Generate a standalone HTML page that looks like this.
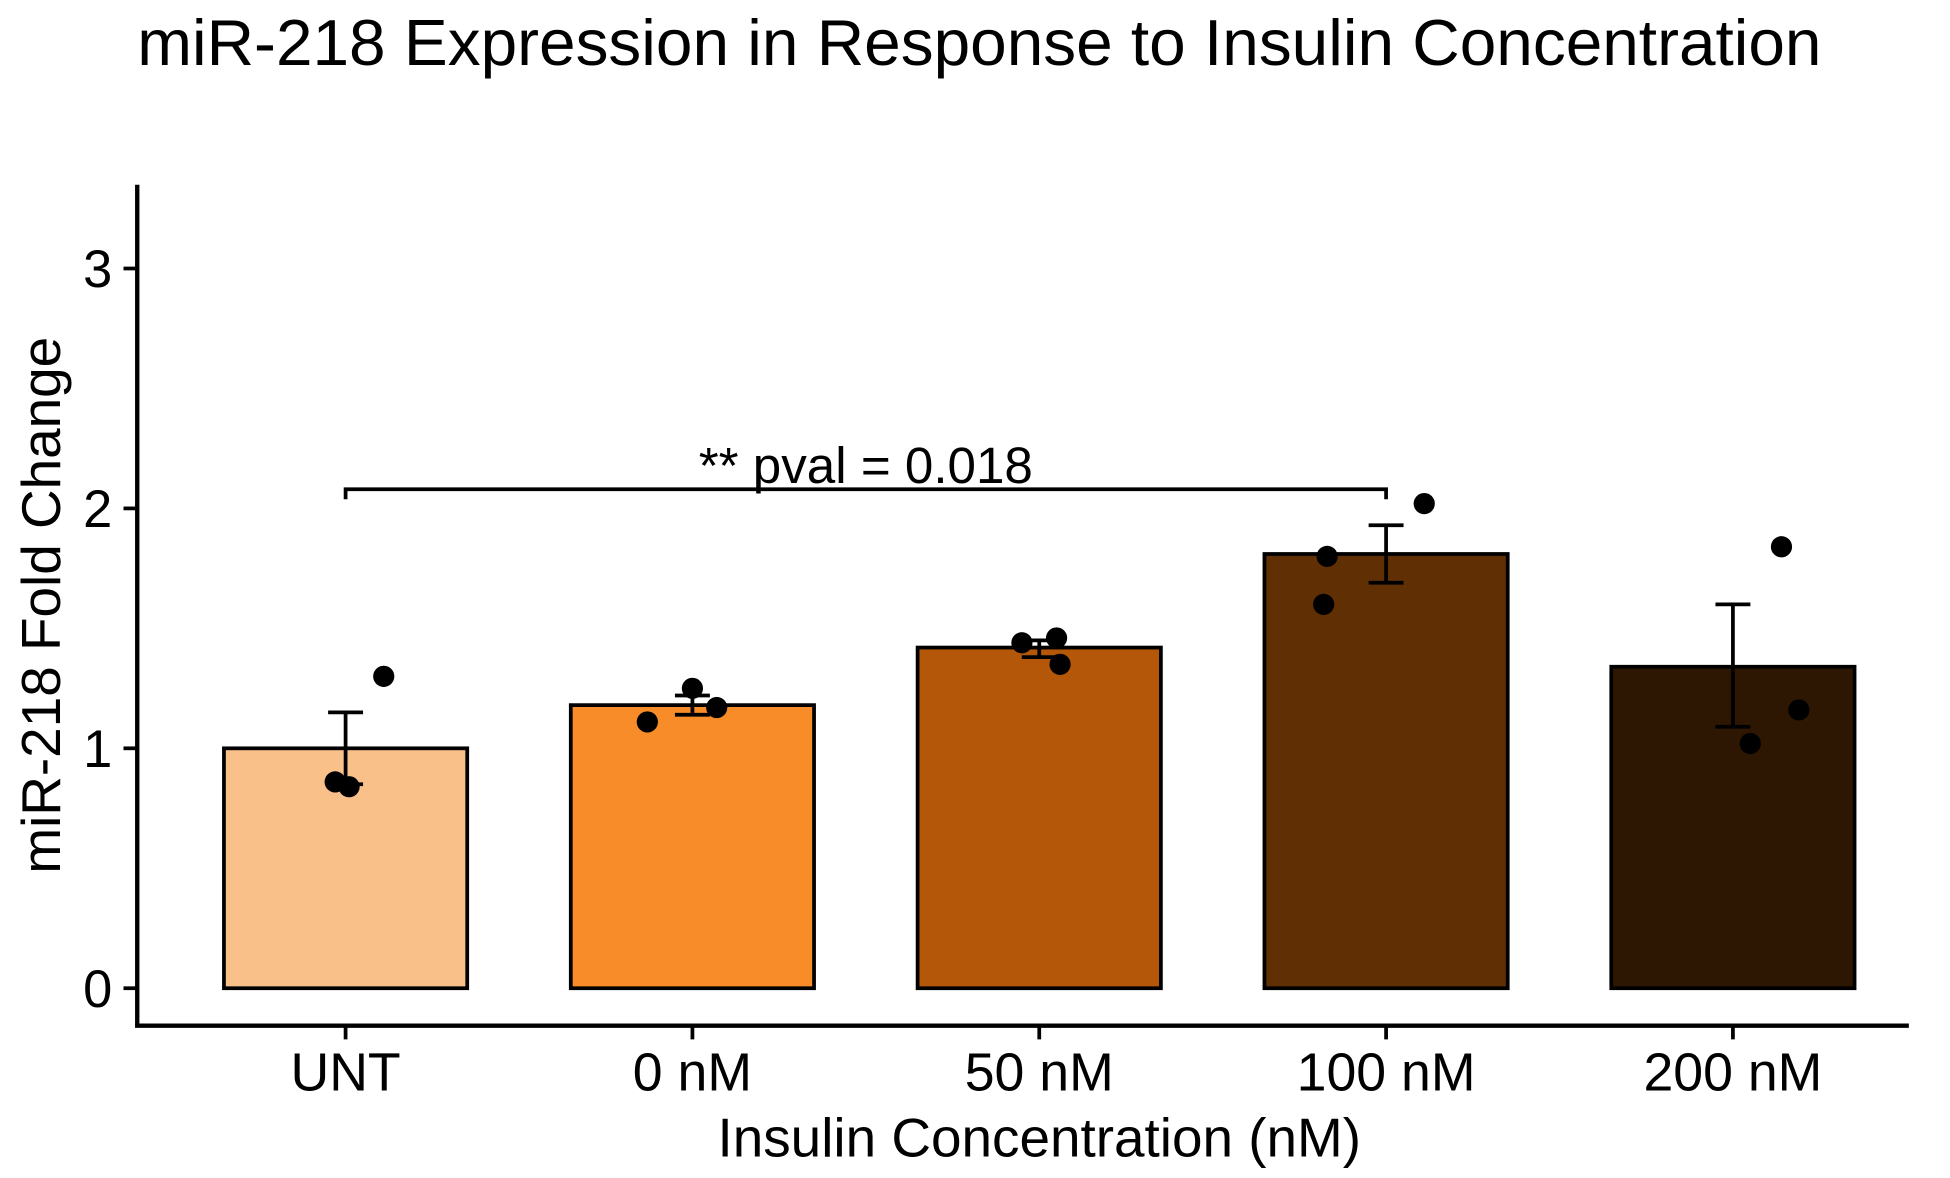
<!DOCTYPE html>
<html><head><meta charset="utf-8">
<style>
html,body{margin:0;padding:0;background:#fff;}
svg{display:block;}
text{font-family:"Liberation Sans",Arial,sans-serif;fill:#000;}
</style></head>
<body>
<svg id="chart" width="1950" height="1178" viewBox="0 0 1563 944" xmlns="http://www.w3.org/2000/svg">
  <text x="110" y="52" font-size="52" textLength="1350" lengthAdjust="spacingAndGlyphs">miR-218 Expression in Response to Insulin Concentration</text>
  <g id="plot"></g>
  <text x="833" y="927" font-size="44" text-anchor="middle">Insulin Concentration (nM)</text>
  <text transform="translate(48,485) rotate(-90)" font-size="44" text-anchor="middle">miR-218 Fold Change</text>
</svg>
<script>
const categories = ["UNT", "0 nM", "50 nM", "100 nM", "200 nM"];
const means = [1.0, 1.18, 1.42, 1.81, 1.34];
const errLow = [0.85, 1.14, 1.38, 1.69, 1.09];
const errHigh = [1.15, 1.22, 1.45, 1.93, 1.60];
const pointValues = [[0.86, 0.84, 1.30], [1.11, 1.25, 1.17], [1.44, 1.46, 1.35], [1.80, 1.60, 2.02], [1.84, 1.02, 1.16]];
const pointJitter = [[-0.03, 0.01, 0.11], [-0.13, 0.0, 0.07], [-0.05, 0.05, 0.06], [-0.17, -0.18, 0.11], [0.14, 0.05, 0.19]];
const yTicks = [0, 1, 2, 3];
const colors = ["#F9C08A", "#F78C28", "#B45708", "#602F04", "#2E1702"];
const sigLabel = "** pval = 0.018";
const sigFrom = 0, sigTo = 3, sigY = 2.08;

const NS = "http://www.w3.org/2000/svg";
const g = document.getElementById("plot");
const x0 = 110, x1 = 1530, yAxisBottom = 822, yAxisTop = 148;
const bandW = 278, firstCenter = 277, barW = 195;
function xScale(i){ return firstCenter + i * bandW; }
function yScale(v){ return 792 - v * 192.3; }
function mk(tag, attrs){ const e = document.createElementNS(NS, tag); for (const k in attrs) e.setAttribute(k, attrs[k]); g.appendChild(e); return e; }

categories.forEach((c, i) => {
  const r = mk("rect", {x: xScale(i) - barW/2, y: yScale(means[i]), width: barW, height: yScale(0) - yScale(means[i]), fill: colors[i], stroke: "#000", "stroke-width": 3});
  
  
});
categories.forEach((c, i) => {
  const cx = xScale(i);
  const e = mk("path", {d: `M${cx-14},${yScale(errHigh[i])}H${cx+14}M${cx},${yScale(errHigh[i])}V${yScale(errLow[i])}M${cx-14},${yScale(errLow[i])}H${cx+14}`, stroke: "#000", "stroke-width": 3, fill: "none"});
  
  
});
pointValues.forEach((vals, i) => {
  vals.forEach((v, j) => {
    const p = mk("circle", {cx: xScale(i) + pointJitter[i][j] * bandW, cy: yScale(v), r: 8.5, fill: "#000"});
    
    
  });
});
const b = mk("path", {d: `M${xScale(sigFrom)},${yScale(sigY)+8}V${yScale(sigY)}H${xScale(sigTo)}V${yScale(sigY)+8}`, stroke: "#000", "stroke-width": 3, fill: "none"});


const st = mk("text", {x: (xScale(sigFrom) + xScale(sigTo)) / 2, y: yScale(sigY) - 5, "font-size": 41, "text-anchor": "middle"});
st.textContent = sigLabel;


const ya = mk("line", {x1: x0, y1: yAxisTop, x2: x0, y2: yAxisBottom, stroke: "#000", "stroke-width": 3.5});


const xa = mk("line", {x1: x0 - 1.75, y1: yAxisBottom, x2: x1, y2: yAxisBottom, stroke: "#000", "stroke-width": 3.5});


yTicks.forEach(t => {
  const tk = mk("line", {x1: x0 - 11, y1: yScale(t), x2: x0, y2: yScale(t), stroke: "#000", "stroke-width": 3});
  
  
  const tl = mk("text", {x: x0 - 20, y: yScale(t) + 15, "font-size": 42, "text-anchor": "end", fill: "#222"});
  tl.textContent = t;
  
  
});
categories.forEach((c, i) => {
  const tk = mk("line", {x1: xScale(i), y1: yAxisBottom, x2: xScale(i), y2: yAxisBottom + 11, stroke: "#000", "stroke-width": 3});
  
  
  const tl = mk("text", {x: xScale(i), y: 874, "font-size": 43, "text-anchor": "middle", fill: "#222"});
  tl.textContent = c;
  
  
});
</script>
</body></html>
